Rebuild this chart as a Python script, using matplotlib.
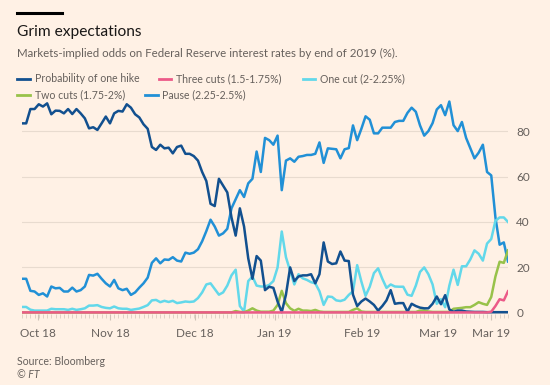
import matplotlib.pyplot as plt
from matplotlib.lines import Line2D
import numpy as np

# Probabilidades implícitas (%), um valor por pregão
one_hike = [
    83.4, 83.4, 89.7, 89.7, 91.8, 90.8, 92.2, 87.4, 89, 88.9, 87.8, 89.7, 87.5, 89.7, 87.8,
    85.6, 81.2, 81.7, 80.5, 83.4, 86.4, 83.4, 87.8, 88.9, 88.6, 91.8, 90.3, 87.4, 86,
    83, 81, 73, 71.7, 74, 72.4, 72.7, 70.2, 73, 73.6, 70, 70, 69, 67, 62,
    58, 48, 47, 59, 56, 53, 42, 34, 46, 38, 24, 15, 25, 23, 10,
    11.5, 11, 5, 0.3, 8, 20, 14, 16, 16.5, 16.5, 17, 13, 17, 31, 22.6, 21.5, 21.8, 27, 23,
    22.8, 8, 3, 5, 6.3, 5, 3.5, 1, 3, 5.5, 10, 4, 4.3, 4.3, 0.5, 4, 3, 2.3, 2, 2, 4, 7.2,
    3.8, 7.8, 1.5, 0.5, 1, 1, 0.6, 0.5, 0.4, 0.4, 0.4, 0.3, 0.3, 0.3, 0.3, 0.3, 0.3,
]
three_cuts = [
    0.2, 0.2, 0.2, 0.2, 0.2, 0.2, 0.2, 0.2, 0.2, 0.2, 0.2, 0.2, 0.2, 0.2, 0.2, 0.2, 0.2, 0.2, 0.2, 0.2,
    0.2, 0.2, 0.2, 0.2, 0.2, 0.2, 0.2, 0.2, 0.2, 0.2, 0.2, 0.2, 0.2, 0.2, 0.2, 0.2, 0.2, 0.2, 0.2, 0.2,
    0.2, 0.2, 0.2, 0.2, 0.2, 0.2, 0.2, 0.2, 0.2, 0.2, 0.2, 0.2, 0.2, 0.2, 0.2, 0.2, 0.2, 0.2, 0.2, 0.2,
    0.2, 0.2, 0.2, 0.2, 0.2, 0.2, 0.2, 0.2, 0.2, 0.2, 0.2, 0.2, 0.2, 0.2, 0.2, 0.2, 0.2, 0.2, 0.2, 0.2,
    0.2, 0.2, 0.2, 0.2, 0.2, 0.2, 0.2, 0.2, 0.2, 0.2, 0.2, 0.2, 0.2, 0.2, 0.2, 0.2, 0.2, 0.2, 0.2, 0.2,
    0.2, 0.2, 0.2, 0.2, 0.2, 0.2, 0.2, 0.2, 0.2, 0.2, 0.2, 0.2, 0.5, 3, 6, 5.5, 9.5,
]
one_cut = [
    2.6, 2.6, 1.4, 1, 1, 1, 1, 1.8, 1.6, 1.6, 1.6, 1.3, 1.8, 1.3, 1.6, 2, 3.2, 3.2, 3.4, 2.6,
    2.2, 2, 2.8, 2, 1.8, 1.8, 1.3, 1.6, 1.9,
    2.6, 3.4, 5.5, 5.7, 4.7, 5.3, 4.8, 5.3, 4.3, 4.6, 5, 4.8, 5, 6.5, 9,
    12.5, 13, 10.5, 8, 9, 12, 16.5, 19, 3, 0.6, 14, 16, 12, 11.6, 11.6,
    12.3, 14, 20, 35.8, 24.5, 18.5, 12.5, 17, 15.2, 14.5, 13.5, 13, 9.5, 3.5, 7.2, 7, 5.5, 5.2,
    5.8, 7.9, 9.5, 21, 13.8, 7.5, 11.5, 17.5, 19.6, 15, 11, 12.5, 11.6, 11.5, 11.5, 8, 7.5, 12,
    18, 20, 17, 12.5, 4, 6, 2.5, 12, 19, 12.3, 20.5, 20.5, 23.5, 27.5, 26, 23, 30.5, 32.5, 40.5,
    42, 42, 40,
]
two_cuts = [
    0.2, 0.2, 0.2, 0.2, 0.2, 0.2, 0.2, 0.2, 0.2, 0.2, 0.2, 0.2, 0.2, 0.2, 0.2, 0.2, 0.2, 0.2, 0.2, 0.2,
    0.2, 0.2, 0.2, 0.2, 0.2, 0.2, 0.2, 0.2, 0.2, 0.2, 0.2, 0.2, 0.2, 0.2, 0.2, 0.2, 0.2, 0.2, 0.2, 0.2,
    0.2, 0.2, 0.2, 0.2, 0.2, 0.2, 0.2, 0.2, 0.2, 0.2, 0.2,
    0.8, 0.4, 0.3, 1, 2, 1, 0.5, 0.5, 0.5, 1, 3.5, 9.7, 4.3, 2, 0.9, 1.8, 1, 1, 0.8, 1.3, 0.6,
    0.4, 0.4, 0.4, 0.4, 0.4, 0.4, 0.4, 1.3, 2, 0.6,
    0.4, 0.4, 0.4, 0.4, 0.4, 0.4, 0.4, 0.4, 0.4, 0.4, 0.4, 0.4, 0.4, 1, 1, 0.6,
    0.4, 0.4, 0.4, 0.4, 0.4, 1.8, 2, 2.2, 2.5, 2.5, 3.5, 4.7, 4, 3.5, 7, 16, 22.5, 22, 27.5,
]
pause = [
    15, 15, 9.7, 9.4, 7.9, 8.6, 7.2, 11.6, 10.8, 11, 9.4, 9.4, 11.1, 9.4, 10, 11.6, 16.7, 16.4,
    17.2, 15, 13, 11.6, 14.5, 10.8, 10, 10.6, 7.9, 9, 11.1,
    13, 15.5, 22, 24, 21.8, 23.5, 23.3, 24.5, 23, 22.6, 26.5, 26, 26.5, 28, 31.5,
    36, 41, 38, 34, 35, 37, 46, 50, 54, 51, 57, 59, 71, 62, 77, 76, 74, 78,
    54, 67, 68, 66.5, 68.7, 69, 69.5, 69.5, 70, 75, 66, 72.4, 72.2, 72, 68, 72, 72.5, 82.5, 76,
    81, 86.5, 85, 79, 79, 81.5, 81.5, 81.5, 84, 84.5, 84.5, 88, 90.3, 88.5, 82.5, 78, 80, 83.5,
    89.5, 91.4, 87, 93, 82.6, 80, 84, 77, 72.5, 68, 70.5, 74, 62, 60.5, 42, 30, 31, 22.6,
]

series_names = ['Probability of one hike', 'Three cuts (1.5-1.75%)', 'One cut (2-2.25%)',
                'Two cuts (1.75-2%)', 'Pause (2.25-2.5%)']
month_labels = ['Oct 18', 'Nov 18', 'Dec 18', 'Jan 19', 'Feb 19', 'Mar 19', 'Mar 19']
y_ticks = [0, 20, 40, 60, 80]

BG = '#fff1e5'
GREY = '#66605c'
cores = {
    'hike': '#12508f',
    'three': '#ec5a88',
    'one': '#62d8ea',
    'two': '#98c24a',
    'pause': '#2190d6',
}

plt.rcParams['font.family'] = ['Lato', 'DejaVu Sans']

fig = plt.figure(figsize=(5.5, 3.85), dpi=100, facecolor=BG)
ax = fig.add_axes([22 / 550, 1 - 314 / 385, 486 / 550, 217 / 385])
ax.set_facecolor(BG)

x = np.arange(len(pause))
ax.plot(x, pause, color=cores['pause'], lw=1.8, zorder=3)
ax.plot(x, one_cut, color=cores['one'], lw=1.8, zorder=3)
ax.plot(x, two_cuts, color=cores['two'], lw=1.8, zorder=3)
ax.plot(x, one_hike, color=cores['hike'], lw=1.8, zorder=4)
ax.plot(x, three_cuts, color=cores['three'], lw=1.8, zorder=5)

ax.set_xlim(0, len(pause) - 1)
ax.set_ylim(-0.5, 95)

for sp in ax.spines.values():
    sp.set_visible(False)

ax.yaxis.tick_right()
ax.set_yticks(y_ticks)
ax.set_yticklabels([str(v) for v in y_ticks])
ax.tick_params(axis='y', length=0, pad=6, labelsize=8.5, labelcolor=GREY)
ax.grid(axis='y', color='#e8dbcf', lw=0.8, zorder=0)

ax.set_xticks([3.8, 21, 41.2, 60.3, 81.1, 99.3, 112])
ax.set_xticklabels(month_labels)
ax.set_xticks(x, minor=True)
ax.tick_params(axis='x', which='major', length=4, color='#cfc2b6', pad=6,
               labelsize=8.5, labelcolor=GREY)
ax.tick_params(axis='x', which='minor', length=3, color='#d9ccc0')

# cabeçalho
fig.add_artist(Line2D([17 / 550, 62 / 550], [1 - 13 / 385] * 2, lw=2.2, color='black'))
fig.text(17 / 550, 1 - 36 / 385, 'Grim expectations', fontsize=11.2, color='#1a1817', va='baseline')
fig.text(17 / 550, 1 - 57 / 385,
         'Markets-implied odds on Federal Reserve interest rates by end of 2019 (%).',
         fontsize=8.3, color=GREY, va='baseline')

# legenda manual
leg_cores = [cores['hike'], cores['three'], cores['one'], cores['two'], cores['pause']]
leg_pos = [(17.5, 79), (158.5, 79), (302.5, 79), (17.5, 94.5), (145, 94.5)]
for nome, cor, (px, py) in zip(series_names, leg_cores, leg_pos):
    yy = 1 - py / 385
    fig.add_artist(Line2D([px / 550, (px + 12.5) / 550], [yy, yy], lw=2, color=cor))
    fig.text((px + 17.5) / 550, yy, nome, fontsize=7.6, color=GREY, va='center')

fig.text(17 / 550, 1 - 365 / 385, 'Source: Bloomberg', fontsize=7.6, color=GREY, va='baseline')
fig.text(17 / 550, 1 - 378 / 385, '© FT', fontsize=7.6, color=GREY, style='italic', va='baseline')

fig.savefig('out.png', dpi=100, facecolor=BG)
